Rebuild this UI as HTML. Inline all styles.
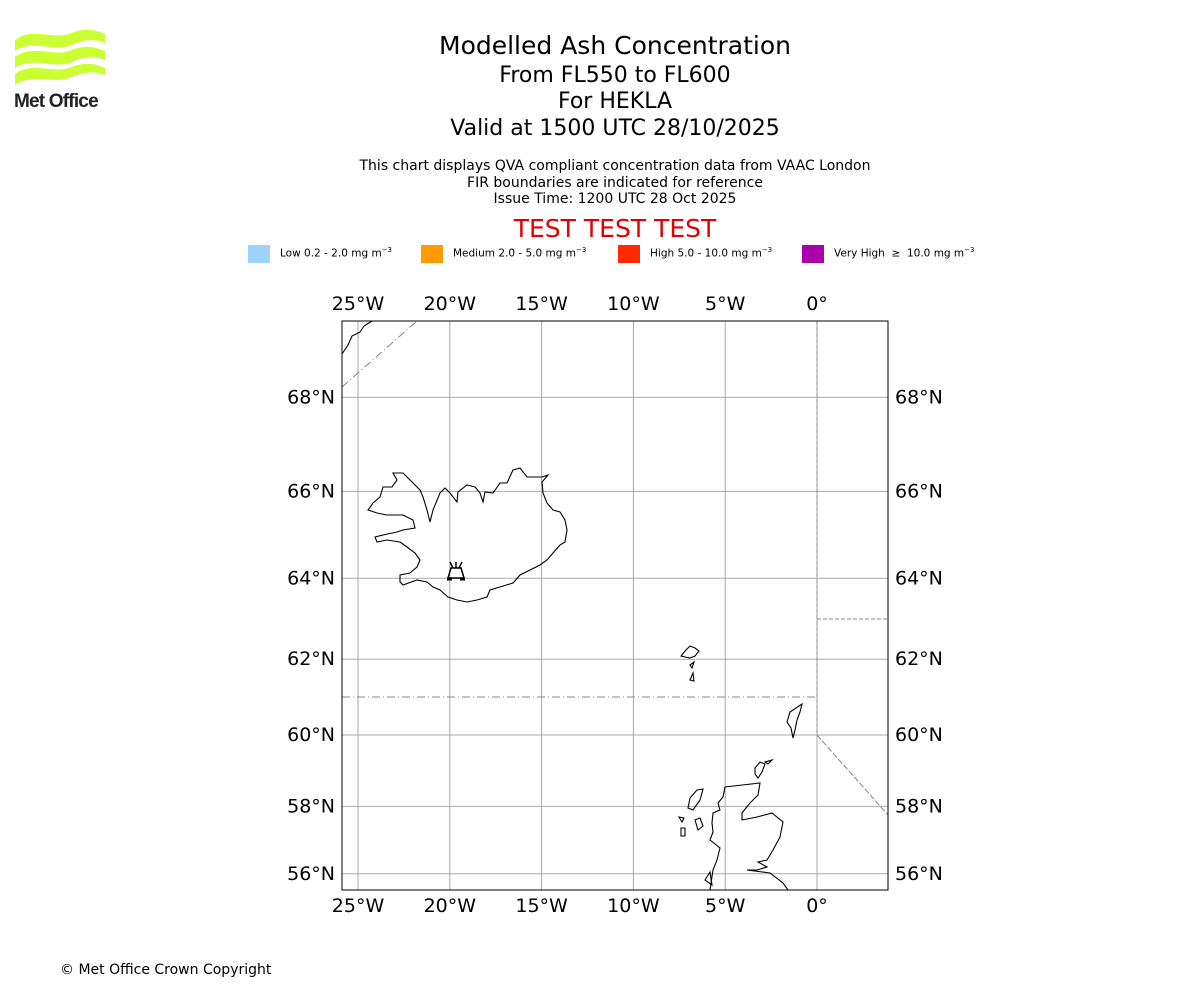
<!DOCTYPE html>
<html><head><meta charset="utf-8"><style>
body{margin:0;background:#fff;width:1200px;height:1000px;overflow:hidden;font-family:"DejaVu Sans","Liberation Sans",sans-serif;}
.t{position:absolute;left:0;width:1230px;text-align:center;color:#000;}
</style></head><body>
<div style="position:absolute;left:14px;top:30px;width:92px;height:82px;">
<svg width="92" height="60" viewBox="0 0 92 60">
<g fill="#ccff33">
<path d="M1,10 C20,-4 40,12 60,2 C72,-2 82,0 91,4 L91,13 C80,9 72,9 60,14 C40,24 20,8 1,21Z"/>
<path d="M1,27 C20,13 40,29 60,19 C72,15 82,17 91,21 L91,30 C80,26 72,26 60,31 C40,41 20,25 1,38Z"/>
<path d="M1,44 C20,30 40,46 60,36 C72,32 82,34 91,38 L91,45 C80,41 72,42 60,46 C40,56 20,42 1,55Z"/>
</g></svg>
<div style="position:absolute;left:0;top:61px;font-family:'Liberation Sans',sans-serif;font-weight:bold;font-size:19px;letter-spacing:-0.8px;color:#222;">Met Office</div>
</div>
<div class="t" style="top:31px;font-size:25px;">Modelled Ash Concentration</div>
<div class="t" style="top:63px;font-size:22px;">From FL550 to FL600</div>
<div class="t" style="top:89px;font-size:22px;">For HEKLA</div>
<div class="t" style="top:116px;font-size:22px;">Valid at 1500 UTC 28/10/2025</div>
<div class="t" style="top:158px;font-size:14px;line-height:16.5px;">This chart displays QVA compliant concentration data from VAAC London<br>FIR boundaries are indicated for reference<br>Issue Time: 1200 UTC 28 Oct 2025</div>
<div class="t" style="top:214px;font-size:25px;color:#e00000;">TEST TEST TEST</div>
<div style="position:absolute;top:245px;left:0;font-size:10.5px;">
<div><span style="position:absolute;left:248px;width:22px;height:18px;background:#a0d2ff"></span><span style="position:absolute;left:280px;top:1px;white-space:nowrap">Low 0.2 - 2.0 mg m<sup style="font-size:7px">−3</sup></span></div>
<div><span style="position:absolute;left:421px;width:22px;height:18px;background:#ff9a00"></span><span style="position:absolute;left:453px;top:1px;white-space:nowrap">Medium 2.0 - 5.0 mg m<sup style="font-size:7px">−3</sup></span></div>
<div><span style="position:absolute;left:618px;width:22px;height:18px;background:#ff2a00"></span><span style="position:absolute;left:650px;top:1px;white-space:nowrap">High 5.0 - 10.0 mg m<sup style="font-size:7px">−3</sup></span></div>
<div><span style="position:absolute;left:802px;width:22px;height:18px;background:#aa00aa"></span><span style="position:absolute;left:834px;top:1px;white-space:nowrap">Very High &nbsp;≥&nbsp; 10.0 mg m<sup style="font-size:7px">−3</sup></span></div>
</div>
<svg id="map" width="1200" height="1000" style="position:absolute;left:0;top:0" font-family="DejaVu Sans, Liberation Sans, sans-serif">
<g id="grid"></g>
<g fill="none" stroke="#888" stroke-width="1">
<path d="M342,387 L417,321" stroke-dasharray="8,3,1,3"/>
<path d="M342,697 L817,697" stroke-dasharray="8,3,1,3"/>
<path d="M817,321 L817,735" stroke-dasharray="4,2"/>
<path d="M817,619 L888,619" stroke-dasharray="4,2"/>
<path d="M817,735 L888,815" stroke-dasharray="6,2"/>
</g>
<g fill="none" stroke="#000" stroke-width="1.1">
<path d="M342,354 L348,345 L352,336 L360,332 L364,326 L372,321"/>
<path d="M393,473 L403,473 L410,480 L420,490 L423,497 L427,510 L430,522 L433,510 L440,493 L445,488 L450,493 L457,502 L458,492 L467,485 L475,487 L480,493 L483,502 L485,492 L493,493 L500,483 L507,483 L513,470 L520,468 L527,477 L533,477 L542,477 L548,475 L542,482 L543,493 L547,503 L553,510 L560,512 L565,520 L567,530 L565,542 L560,545 L553,553 L547,560 L540,565 L530,570 L520,575 L513,583 L500,587 L490,590 L487,597 L477,600 L467,602 L457,600 L448,597 L440,590 L433,587 L427,582 L417,580 L403,585 L400,582 L400,575 L410,573 L417,567 L420,560 L415,553 L407,547 L400,542 L387,540 L377,542 L375,537 L383,535 L397,532 L403,530 L415,528 L413,520 L403,515 L387,515 L377,513 L368,510 L373,503 L380,497 L383,487 L392,487 L397,480 Z"/>
<path d="M681,656 L686,650 L690,646 L695,648 L699,651 L695,656 L690,658 L685,657 Z M690,665 L694,662 L692,668 Z M690,680 L693,673 L694,681 Z"/>
<path d="M787,722 L790,712 L796,708 L802,704 L800,712 L797,720 L795,730 L793,738 L791,728 Z"/>
<path d="M755,768 L760,762 L765,764 L762,772 L758,778 L755,774 Z M765,762 L772,760 L768,764 Z"/>
<path d="M725,787 L760,783 L758,795 L750,803 L742,813 L742,820 L757,817 L772,813 L783,822 L780,837 L773,850 L767,860 L758,862 L767,867 L757,870 L747,870 L770,873 L783,883 L788,890 L710,890 L713,870 L717,860 L720,848 L710,840 L713,832 L712,823 L713,813 L720,810 L718,803 L723,797 Z"/>
<path d="M697,790 L703,789 L700,800 L693,810 L688,808 L690,798 Z M681,828 L685,828 L685,836 L681,836 Z M695,820 L700,818 L703,826 L698,830 Z M679,817 L684,818 L682,822 Z M705,880 L710,872 L712,885 Z"/>
</g>
<g stroke="#000" stroke-width="1.5" fill="none">
<path d="M450,562 L453,568 M456,562 L456,568 M462,562 L459,568 M451,568 L461,568 L464,578 L448,578 Z"/>
<path d="M447,579 L452,579 M460,579 L465,579" stroke-width="3"/>
</g>
<rect x="342" y="321" width="546" height="569" fill="none" stroke="#000" stroke-width="1"/>
<g id="labels" font-size="19" fill="#000"></g>
</svg>
<div style="position:absolute;left:60px;top:962px;font-size:14px;">© Met Office Crown Copyright</div>
<script>
const lonTicks=[-25,-20,-15,-10,-5,0];
const latTicks=[56,58,60,62,64,66,68];
const lonLabels=["25°W","20°W","15°W","10°W","5°W","0°"];
const latLabels=["56°N","58°N","60°N","62°N","64°N","66°N","68°N"];
const NS="http://www.w3.org/2000/svg";
const L=342,R=888,T=321,B=890;
const k=1052.0;
function x(lon){return 817+lon*18.36;}
function merc(lat){return Math.log(Math.tan(Math.PI/4+lat*Math.PI/360));}
function y(lat){return 735-k*(merc(lat)-merc(60));}
const g=document.getElementById('grid'),lb=document.getElementById('labels');
function mk(tag,a,p){const e=document.createElementNS(NS,tag);for(const q in a)e.setAttribute(q,a[q]);p.appendChild(e);return e;}
lonTicks.forEach((v,i)=>{
 const l=mk('line',{x1:x(v),x2:x(v),y1:T,y2:B,stroke:'#aaa','stroke-width':1},g);
 
 
 [310,912].forEach(yy=>{const t=mk('text',{x:x(v),y:yy,'text-anchor':'middle'},lb);t.textContent=lonLabels[i];
 
 });
});
latTicks.forEach((v,i)=>{
 const l=mk('line',{x1:L,x2:R,y1:y(v),y2:y(v),stroke:'#aaa','stroke-width':1},g);
 
 
 const t1=mk('text',{x:335,y:y(v)+6,'text-anchor':'end'},lb);t1.textContent=latLabels[i];
 
 
 const t2=mk('text',{x:895,y:y(v)+6,'text-anchor':'start'},lb);t2.textContent=latLabels[i];
 
 
});
</script>
</body></html>
